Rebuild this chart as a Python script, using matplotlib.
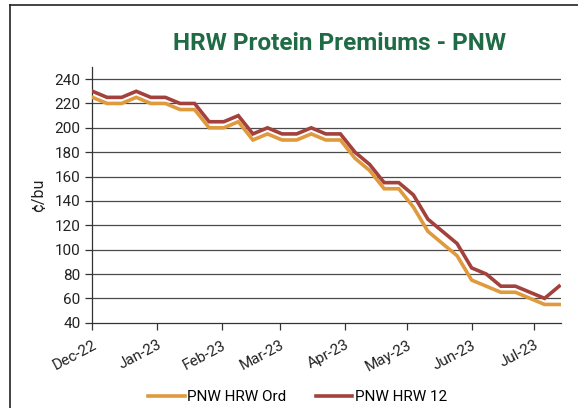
import matplotlib
matplotlib.use("Agg")
import matplotlib.pyplot as plt
import matplotlib.dates as mdates
import pandas as pd
from matplotlib.lines import Line2D

plt.rcParams['font.family'] = ['Roboto', 'DejaVu Sans']

# weekly observations starting Dec 1, 2022
dates = pd.date_range("2022-12-01", periods=33, freq="7D")
hrw_ord = [225, 220, 220, 225, 220, 220, 215, 215, 200, 200, 205, 190, 195, 190, 190, 195, 190,
           190, 175, 165, 150, 150, 135, 115, 105, 95, 75, 70, 65, 65, 60, 55, 55]
hrw_12 = [230, 225, 225, 230, 225, 225, 220, 220, 205, 205, 210, 195, 200, 195, 195, 200, 195,
          195, 180, 170, 155, 155, 145, 125, 115, 105, 85, 80, 70, 70, 65, 60, 70]
series_names = ["PNW HRW Ord", "PNW HRW 12"]
y_ticks = list(range(40, 241, 20))

orange = "#DF9A3E"
red = "#A3423C"

fig = plt.figure(figsize=(5.78, 4.08), dpi=100)
ax = fig.add_axes([0.16, 0.209, 0.811, 0.627])

for y in y_ticks[1:]:
    ax.axhline(y, color="#4a4a4a", lw=0.9, zorder=1)

ax.plot(dates, hrw_ord, color=orange, lw=2.6, label=series_names[0], zorder=3, solid_joinstyle="miter")
ax.plot(dates, hrw_12, color=red, lw=2.6, label=series_names[1], zorder=3, solid_joinstyle="miter")

ax.set_ylim(40, 250)
ax.set_yticks(y_ticks)
ax.set_xlim(pd.Timestamp("2022-12-01"), pd.Timestamp("2023-07-14"))
ax.xaxis.set_major_locator(mdates.MonthLocator())
ax.xaxis.set_major_formatter(mdates.DateFormatter("%b-%y"))

for side in ["top", "right"]:
    ax.spines[side].set_visible(False)
for side in ["left", "bottom"]:
    ax.spines[side].set_color("#333333")
    ax.spines[side].set_linewidth(0.9)

ax.tick_params(axis="both", labelsize=11, colors="#222222", length=5, width=0.9, color="#333333")
ax.tick_params(axis="x", pad=6)
plt.setp(ax.get_xticklabels(), rotation=28, ha="right", rotation_mode="anchor")
ax.set_ylabel("¢/bu", fontsize=11.5, color="#222222", labelpad=6)

fig.text(0.587, 0.893, "HRW Protein Premiums - PNW", fontsize=17.5, fontweight="bold",
         color="#1E6B45", ha="center", va="center")

handles = [Line2D([0], [0], color=orange, lw=2.6), Line2D([0], [0], color=red, lw=2.6)]
fig.legend(handles, series_names, loc="center", bbox_to_anchor=(0.515, 0.027), ncol=2,
           frameon=False, fontsize=11, handlelength=2.4, handletextpad=0.15, columnspacing=1.9)

# frame lines top and left
fig.add_artist(Line2D([0.018, 1.0], [0.988, 0.988], color="#222222", lw=1.2, transform=fig.transFigure))
fig.add_artist(Line2D([0.018, 0.018], [0.0, 0.988], color="#222222", lw=1.2, transform=fig.transFigure))

fig.savefig("out.png", dpi=100, facecolor="white")
